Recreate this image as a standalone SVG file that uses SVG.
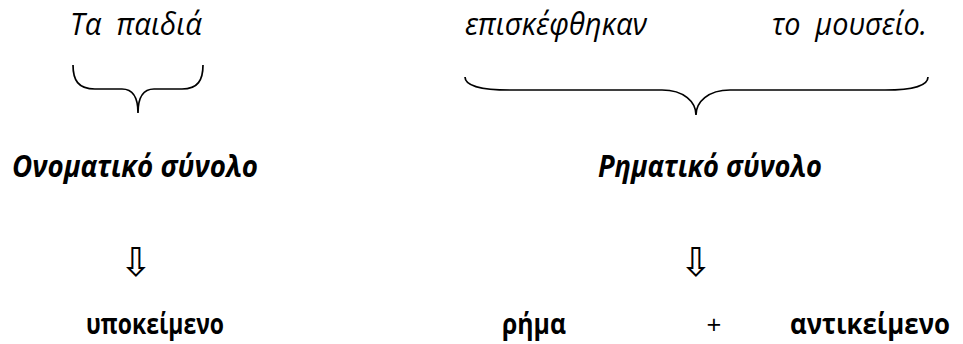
<svg xmlns="http://www.w3.org/2000/svg" width="963" height="344" viewBox="0 0 963 344">
<style>
text{font-family:"Open Sans","Noto Sans","DejaVu Sans",sans-serif;fill:#000;white-space:pre}
.it{font-style:italic;font-size:31px}
.hd{font-style:italic;font-weight:bold;font-size:31px}
.bd{font-weight:bold;font-size:29px}
.pl{font-size:26px}
.ar{font-family:"DejaVu Sans",sans-serif;font-size:40px}
.br{fill:none;stroke:#000;stroke-width:1.7}
</style>
<rect width="963" height="344" fill="#fff"/>
<g id="sentence">
<text class="it" x="70" y="35" textLength="132" lengthAdjust="spacingAndGlyphs">Τα  παιδιά</text>
<text class="it" x="465" y="35" textLength="182" lengthAdjust="spacingAndGlyphs">επισκέφθηκαν</text>
<text class="it" x="772" y="35" textLength="155" lengthAdjust="spacingAndGlyphs">το  μουσείο.</text>
</g>
<g id="connectors">
<path class="br" d="M73,65 C73,80 78,89 95,89 L122,89 C132,89 138,96 138,113 C138,96 144,89 154,89 L182,89 C198,89 203,80 203,65"/>
<path class="br" d="M465,77 C465,85 478,90 510,90 L662,90 C684,90 696,102 696,115 C696,102 708,90 730,90 L885,90 C915,90 928,85 928,77"/>
</g>
<g id="np">
<text class="hd" x="12" y="177" textLength="246" lengthAdjust="spacingAndGlyphs">Ονοματικό σύνολο</text>
<text class="ar" x="136" y="276" text-anchor="middle">⇩</text>
<text class="bd" x="86" y="334" textLength="138" lengthAdjust="spacingAndGlyphs">υποκείμενο</text>
</g>
<g id="vp">
<text class="hd" x="598" y="177" textLength="224" lengthAdjust="spacingAndGlyphs">Ρηματικό σύνολο</text>
<text class="ar" x="696" y="276" text-anchor="middle">⇩</text>
<text class="bd" x="502" y="334" textLength="64" lengthAdjust="spacingAndGlyphs">ρήμα</text>
<text class="pl" x="714" y="334" text-anchor="middle">+</text>
<text class="bd" x="950" y="334" text-anchor="end" textLength="160" lengthAdjust="spacingAndGlyphs">αντικείμενο</text>
</g>
</svg>
